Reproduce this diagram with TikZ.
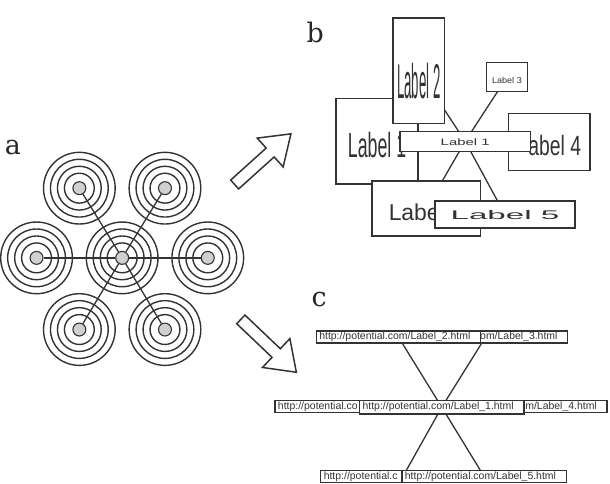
\documentclass[tikz,border=0pt]{standalone}
\usepackage{fontspec}
\usepackage{graphicx}
\newfontfamily\arialf{Liberation Sans}
\newfontfamily\letterf{DejaVu Serif}
\usetikzlibrary{backgrounds}
\pgfdeclarelayer{edgelayer}
\pgfsetlayers{background,edgelayer,main}
\definecolor{ink}{HTML}{333333}
\definecolor{diskgray}{HTML}{D0D0D0}
\tikzset{
  ring/.style={draw=ink, line width=1.4pt},
  hub/.style={circle, draw=ink, line width=1.1pt, fill=diskgray, minimum size=13pt, inner sep=0pt},
  spoke/.style={draw=ink, line width=1.3pt},
  bbox/.style={draw=ink, line width=1.5pt, fill=white, inner sep=0pt, font=\arialf, text=ink},
  ubox/.style={draw=ink, line width=1.4pt, fill=white, inner xsep=3pt, inner ysep=0pt,
               text width=159pt, align=left, text=ink,
               font=\arialf\fontsize{10.5}{12}\selectfont, minimum height=12pt},
  linkedge/.style={draw=ink, line width=1.3pt},
  bigarrow/.style={draw=ink, line width=1.5pt, fill=white, line join=miter},
  panel/.style={font=\letterf\fontsize{27}{27}\selectfont, inner sep=0pt, anchor=base west, text=black!85},
}
\begin{document}
\begin{tikzpicture}[x=1pt, y=-1pt]
\begin{pgfonlayer}{background}
  \path[use as bounding box, fill=white] (0,0) rectangle (610,483);
\end{pgfonlayer}

% ---------- panel letters
\node[panel] (la) at (2,155) {a};
\node[panel] (lb) at (305,43) {b};
\node[panel] (lc) at (310,308) {c};

% ---------- panel a
\coordinate (a0) at (120,259);
\coordinate (a1) at (34,259);
\coordinate (a2) at (206,259);
\coordinate (a3) at (77,189);
\coordinate (a4) at (163,189);
\coordinate (a5) at (77,331);
\coordinate (a6) at (163,331);
\foreach \c in {a0,a1,a2,a3,a4,a5,a6}{
  \foreach \r in {36,29,22,15}{
    \draw[ring] (\c) circle[radius=\r];
  }
}
\foreach \i in {0,...,6}{
  \node[hub] (h\i) at (a\i) {};
}
\draw[spoke] (h1) -- (h0);
\draw[spoke] (h0) -- (h2);
\draw[spoke] (h0) -- (h3);
\draw[spoke] (h0) -- (h4);
\draw[spoke] (h0) -- (h5);
\draw[spoke] (h0) -- (h6);

% ---------- arrows
\draw[bigarrow, shift={(233,185.3)}, rotate=42]
  (0,-6) -- (48,-6) -- (48,-19.5) -- (76,0) -- (48,19.5) -- (48,6) -- (0,6) -- cycle;
\draw[bigarrow, shift={(239.2,320.8)}, rotate=-43.6]
  (0,-6) -- (49,-6) -- (49,-20) -- (77,0) -- (49,20) -- (49,6) -- (0,6) -- cycle;

% ---------- panel b
\node[bbox, minimum width=82pt, text height=59pt, text depth=27pt] (bL) at (376,142)
  {\fontsize{35}{35}\selectfont\scalebox{0.51}[1]{Label 1}};
\node[bbox, minimum width=52pt, text height=81pt, text depth=25pt] (b2) at (418,71)
  {\fontsize{49}{49}\selectfont\scalebox{0.27}[1]{Label 2}};
\node[bbox, minimum width=41pt, text height=20.5pt, text depth=8.5pt] (b3) at (506.5,77.5)
  {\fontsize{8.5}{8.5}\selectfont\scalebox{1.07}[1]{Label 3}};
\node[bbox, minimum width=82pt, text height=42pt, text depth=15pt] (b4) at (549,142.5)
  {\fontsize{28}{28}\selectfont\scalebox{0.695}[1]{\phantom{L}abel 4}};
\node[bbox, minimum width=109pt, text height=39.5pt, text depth=15.5pt] (b6) at (425.5,209.5)
  {\fontsize{23}{23}\selectfont Labe\phantom{l 6}\hspace{9pt}};
\node[bbox, minimum width=131pt, text height=14pt, text depth=6pt] (b1) at (464.5,142)
  {\fontsize{9.4}{9.4}\selectfont\scalebox{1.59}[1]{Label 1}};
\node[bbox, minimum width=141pt, text height=18.7pt, text depth=8.3pt] (b5) at (504.5,215.5)
  {\fontsize{12.6}{12.6}\selectfont\scalebox{2.64}[1]{Label 5}};
\begin{pgfonlayer}{edgelayer}
  \foreach \t in {bL,b2,b3,b4,b6,b5}{
    \draw[linkedge] (b1.center) -- (\t.center);
  }
\end{pgfonlayer}

% ---------- panel c
\node[ubox] (c3) at (485,338.5) {\phantom{http://potential.c}om/Label\_3.html};
\node[ubox] (c2) at (397.5,338.5) {http://potential.com/Label\_2.html};
\node[ubox] (c6) at (356,408.5) {http://potential.co\phantom{m/Label\_6.html}};
\node[ubox] (c4) at (524.5,408.5) {\phantom{http://potential.c}om/Label\_4.html};
\node[ubox, minimum height=14pt] (c1) at (441,409) {http://potential.com/Label\_1.html};
\node[ubox] (c7) at (402,478.5) {http://potential.c\phantom{om/Label\_7.html}};
\node[ubox] (c5) at (483.5,478.5) {http://potential.com/Label\_5.html};
\begin{pgfonlayer}{edgelayer}
  \foreach \t in {c2,c3,c4,c5,c6,c7}{
    \draw[linkedge] (c1.center) -- (\t.center);
  }
\end{pgfonlayer}
\end{tikzpicture}
\end{document}
